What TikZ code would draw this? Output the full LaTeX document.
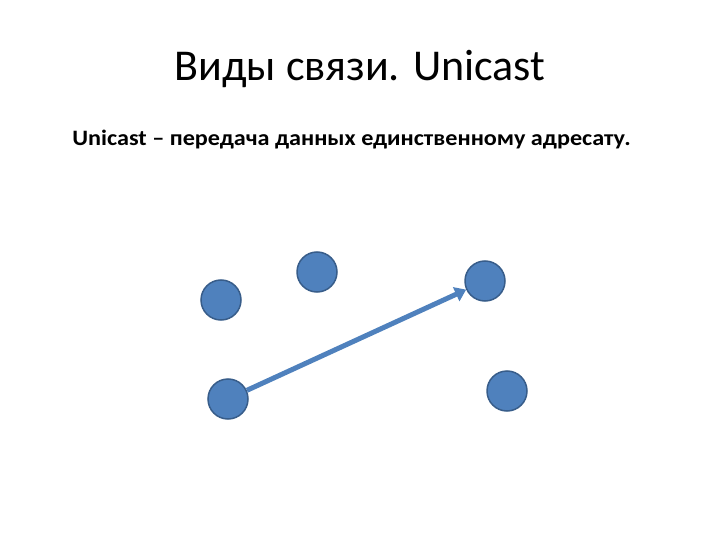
\documentclass[tikz,border=0pt]{standalone}
\usepackage{fontspec}
\setmainfont{Carlito}
\usetikzlibrary{arrows.meta,positioning}
\definecolor{hostfill}{HTML}{4F81BD}
\definecolor{hostdraw}{HTML}{385D8A}

\begin{document}
\begin{tikzpicture}[x=1pt,y=-1pt,thick,>=stealth]
      \tikzstyle{host}=[circle,draw=hostdraw,fill=hostfill,line width=1.5pt,minimum size=40pt,inner sep=0pt]
      \tikzstyle{send}=[draw=hostfill,line width=5pt,-{Triangle[length=11pt,width=15pt]}]

      \useasboundingbox (0,0) rectangle (720,540);

      \node[anchor=base] (title) at (360,81) {\fontsize{44}{50}\selectfont Виды связи. Unicast};
      \node[anchor=base west,inner sep=0pt] (text) at (72,146) {\scalebox{1.1}[1]{\fontsize{22}{26}\selectfont\bfseries Unicast -- передача данных единственному адресату.}};

      \node[host] (A) at (221,300) {};
      \node[host] (B) at (317,272) {};
      \node[host] (C) at (485,281) {};
      \node[host] (D) at (228,399) {};
      \node[host] (E) at (507,391) {};

      \draw[send] (D) -- (C);
    \end{tikzpicture}
\end{document}
